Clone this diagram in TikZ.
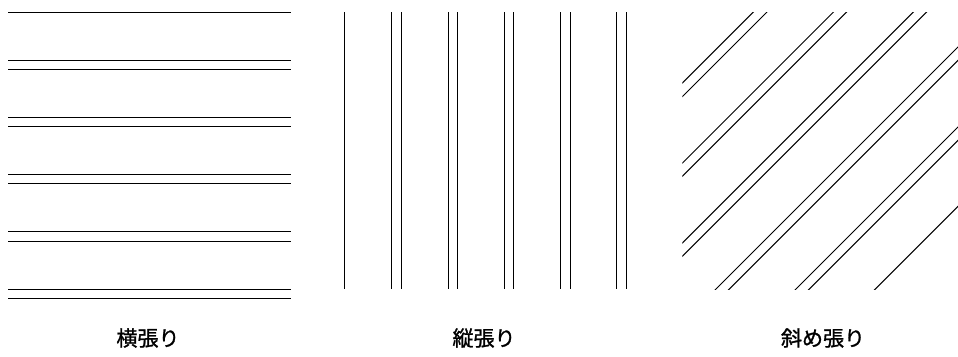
\documentclass[tikz,border=0pt]{standalone}
\usepackage{fontspec}
\newfontfamily\cjkfont[FakeBold=1.2]{Noto Sans CJK JP}
\begin{document}
\begin{tikzpicture}[x=1pt,y=-1pt,
  board/.style={line width=1pt,black},
  caption/.style={font=\cjkfont\fontsize{21}{24}\selectfont,inner sep=0pt,anchor=center}]
\useasboundingbox (0,0) rectangle (958,356);
% horizontal
\foreach \yy in {12.3,60.3,69.7,117.3,126.7,174.3,183.7,231.7,241,289,298.3}
  \draw[board] (8,\yy) -- (290.7,\yy);
% vertical
\foreach \xx in {344.7,391.7,401,448,457.3,504.3,513.3,560.7,570,616.7,626}
  \draw[board] (\xx,12.3) -- (\xx,289);
% diagonal
\begin{scope}
\clip (682.3,12.3) rectangle (964,289);
\foreach \cc in {765.3,779,845.5,858.6,925.3,938.6,1005,1018.4,1085,1098.4,1164.4}
  \draw[board] ({\cc-300},300) -- ({\cc},0);
\end{scope}
\node[caption] (yoko) at (148,338) {横張り};
\node[caption] (tate) at (484,338) {縦張り};
\node[caption] (naname) at (823,338) {斜め張り};
\end{tikzpicture}
\end{document}
